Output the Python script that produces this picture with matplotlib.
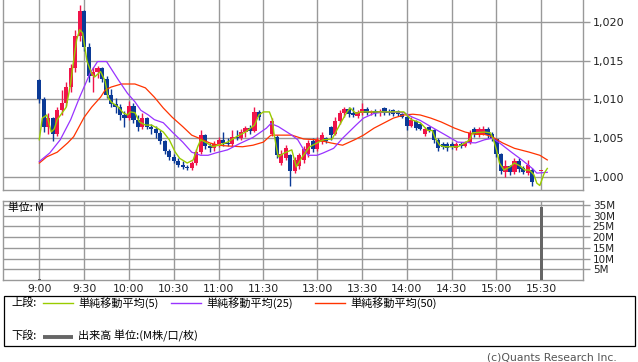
import numpy as np
import matplotlib
matplotlib.use("Agg")
import matplotlib.pyplot as plt
from matplotlib.patches import Rectangle

plt.rcParams['font.family'] = ['DejaVu Sans', 'Noto Sans CJK JP']

# 時間軸: 9:00 からの分 (昼休みは 6 分の隙間に圧縮)
tick_pos = [0, 30, 60, 90, 120, 150, 186, 216, 246, 276, 306, 336]
tick_labels = ['9:00', '9:30', '10:00', '10:30', '11:00', '11:30',
               '13:00', '13:30', '14:00', '14:30', '15:00', '15:30']

# 3分足 (前場 9:00-11:27, 後場 12:30-15:24, 引け 15:30)
bar_pos = np.concatenate([np.arange(0, 150, 3), np.arange(156, 333, 3), [336]])

opens = [1012.5, 1010.0, 1006.5, 1007.6, 1005.6, 1008.6, 1009.6, 1011.6, 1014.0, 1018.2,
         1021.4, 1016.8, 1013.0, 1013.6, 1014.0, 1012.6, 1010.6, 1009.4, 1009.0, 1008.0,
         1007.6, 1009.2, 1007.4, 1006.4, 1007.6, 1006.5, 1006.2, 1005.7, 1004.6, 1003.4,
         1002.6, 1002.1, 1001.6, 1001.3, 1001.1, 1001.8, 1003.2, 1005.4, 1004.0, 1003.7,
         1004.3, 1004.8, 1004.4, 1004.2, 1005.2, 1005.0, 1005.8, 1006.3, 1005.9, 1008.4,
         1005.5, 1005.2, 1001.8, 1002.4, 1002.8, 1000.8, 1001.4, 1002.2, 1003.0, 1004.6,
         1003.6, 1004.5, 1005.0, 1006.4, 1005.6, 1007.2, 1008.2, 1008.8, 1008.3, 1007.9,
         1008.2, 1008.8, 1008.3, 1008.5, 1008.2, 1008.9, 1008.4, 1008.6, 1008.5, 1008.1,
         1007.8, 1006.6, 1007.2, 1006.8, 1005.6, 1006.4, 1006.0, 1004.8, 1004.2, 1004.3,
         1004.2, 1003.7, 1004.3, 1004.0, 1004.5, 1006.2, 1005.5, 1005.6, 1006.2, 1005.6,
         1004.9, 1003.0, 1000.6, 1001.4, 1000.6, 1002.0, 1001.2, 1000.5, 1000.9, 1000.8]
highs = [1012.7, 1010.3, 1008.3, 1007.8, 1009.0, 1011.2, 1012.3, 1014.6, 1019.0, 1022.2,
         1021.6, 1017.3, 1014.2, 1014.3, 1014.2, 1013.0, 1011.4, 1010.2, 1009.4, 1008.5,
         1009.8, 1009.5, 1008.0, 1008.3, 1007.8, 1006.9, 1006.6, 1006.0, 1004.8, 1003.6,
         1003.0, 1002.5, 1002.0, 1001.6, 1002.0, 1003.6, 1006.0, 1005.6, 1004.4, 1004.6,
         1005.2, 1005.8, 1005.0, 1006.0, 1006.0, 1006.2, 1006.6, 1006.7, 1009.0, 1008.6,
         1007.6, 1005.4, 1003.5, 1004.1, 1003.0, 1002.6, 1003.1, 1004.0, 1004.8, 1005.0,
         1005.2, 1005.8, 1005.2, 1006.6, 1007.7, 1008.6, 1009.0, 1009.0, 1009.0, 1008.6,
         1009.6, 1009.0, 1008.7, 1008.8, 1008.8, 1009.0, 1008.8, 1008.8, 1008.7, 1008.3,
         1008.0, 1007.8, 1007.4, 1007.0, 1006.5, 1006.6, 1006.2, 1005.0, 1004.5, 1004.5,
         1004.5, 1004.5, 1004.5, 1004.7, 1006.0, 1006.4, 1006.5, 1006.6, 1006.4, 1005.8,
         1005.0, 1003.1, 1002.2, 1001.6, 1002.4, 1002.4, 1001.4, 1002.2, 1001.2, 1000.8]
lows = [1009.5, 1005.8, 1005.5, 1004.7, 1005.3, 1008.0, 1009.2, 1011.0, 1013.5, 1017.6,
        1016.2, 1012.3, 1011.0, 1012.8, 1012.3, 1010.2, 1009.0, 1008.3, 1007.4, 1006.4,
        1007.4, 1007.0, 1005.9, 1006.2, 1006.2, 1005.5, 1005.0, 1004.2, 1003.0, 1002.2,
        1001.8, 1001.3, 1001.0, 1000.9, 1000.9, 1001.5, 1003.0, 1003.6, 1003.2, 1003.4,
        1003.9, 1004.0, 1004.0, 1004.0, 1004.8, 1004.8, 1005.2, 1005.6, 1005.8, 1007.3,
        1005.3, 1002.4, 1001.5, 1002.2, 998.8, 1000.5, 1001.0, 1001.8, 1002.6, 1003.2,
        1003.4, 1004.3, 1004.4, 1004.8, 1005.4, 1006.9, 1007.8, 1007.8, 1007.7, 1007.6,
        1008.0, 1008.0, 1008.0, 1007.9, 1007.9, 1008.0, 1008.0, 1007.9, 1007.9, 1007.6,
        1006.0, 1006.4, 1006.0, 1006.0, 1005.3, 1005.8, 1004.4, 1003.4, 1003.6, 1003.4,
        1003.6, 1003.5, 1003.8, 1003.9, 1004.3, 1005.2, 1005.2, 1005.4, 1005.0, 1004.6,
        1002.6, 1000.4, 1000.0, 1000.2, 1000.4, 1000.6, 1000.4, 1000.3, 998.9, 1000.8]
closes = [1010.0, 1006.5, 1007.6, 1005.6, 1008.6, 1009.6, 1011.6, 1014.0, 1018.2, 1021.4,
          1016.8, 1013.0, 1013.6, 1014.0, 1012.6, 1010.6, 1009.4, 1009.0, 1008.0, 1007.6,
          1009.2, 1007.4, 1006.4, 1007.6, 1006.5, 1006.2, 1005.7, 1004.6, 1003.4, 1002.6,
          1002.1, 1001.6, 1001.3, 1001.1, 1001.8, 1003.2, 1005.4, 1004.0, 1003.7, 1004.3,
          1004.8, 1004.4, 1004.2, 1005.2, 1005.0, 1005.8, 1006.3, 1005.9, 1008.4, 1007.8,
          1007.2, 1002.8, 1003.0, 1003.7, 1000.8, 1002.2, 1002.8, 1003.6, 1004.4, 1003.6,
          1004.8, 1005.4, 1004.6, 1005.4, 1007.2, 1008.2, 1008.8, 1008.1, 1008.0, 1008.4,
          1008.8, 1008.3, 1008.5, 1008.2, 1008.5, 1008.3, 1008.2, 1008.1, 1008.1, 1007.8,
          1006.6, 1007.4, 1006.3, 1006.2, 1006.2, 1006.0, 1004.8, 1003.8, 1003.9, 1003.8,
          1003.9, 1004.3, 1004.0, 1004.5, 1005.7, 1005.5, 1006.2, 1006.2, 1005.4, 1004.9,
          1003.0, 1000.8, 1001.4, 1000.6, 1002.0, 1001.0, 1000.7, 1001.6, 999.4, 1000.8]

# 単純移動平均 (チャートから読み取り)
ma5_pos = [0, 2, 5, 8, 10, 12, 15, 18, 21, 23, 25, 27, 29, 30, 32, 35, 37, 41, 44, 46,
           48, 53, 56, 59, 61, 64, 67, 71, 75, 79, 83, 87, 91, 94, 99, 103, 106, 108, 112, 116,
           120, 126, 132, 138, 144, 147, 150, 154, 156, 157, 159, 160, 164, 169, 172, 176, 181, 186, 190, 196,
           199, 203, 206, 208, 212, 215, 244, 246, 249, 255, 260, 263, 265, 268, 271, 280, 285, 288, 290, 298,
           302, 304, 306, 308, 311, 315, 318, 322, 325, 328, 331, 333, 335, 338, 340]
ma5 = [1004.8, 1007.6, 1008.0, 1005.8, 1006.2, 1007.4, 1008.2, 1009.0, 1012.1, 1015.1,
       1017.7, 1019.0, 1018.6, 1017.3, 1014.9, 1013.4, 1012.9, 1013.6, 1012.4, 1010.3,
       1009.7, 1009.0, 1008.3, 1008.0, 1008.4, 1008.3, 1007.1, 1006.7, 1006.7, 1006.3,
       1005.8, 1004.8, 1003.2, 1002.4, 1001.8, 1002.2, 1003.9, 1004.8, 1004.4, 1003.9,
       1004.1, 1004.5, 1005.2, 1005.8, 1006.7, 1008.0, 1008.4, 1008.4, 1007.4, 1005.7,
       1003.5, 1002.6, 1003.1, 1003.5, 1001.3, 1002.6, 1003.9, 1004.4, 1004.8, 1004.9,
       1006.0, 1007.4, 1008.4, 1008.9, 1008.2, 1008.4, 1008.4, 1008.0, 1007.4, 1007.0,
       1006.0, 1006.0, 1005.0, 1004.1, 1003.9, 1003.9, 1004.4, 1004.8, 1005.7, 1005.8,
       1005.7, 1004.8, 1003.5, 1001.8, 1000.9, 1001.3, 1001.8, 1001.4, 1000.9, 1000.9,
       1000.3, 999.2, 998.9, 1000.5, 1001.1]

ma25_pos = [0, 7, 14, 21, 27, 34, 39, 45, 48, 53, 59, 64, 68, 73, 77, 83, 89, 96, 102, 108,
            113, 118, 126, 134, 143, 152, 155, 160, 169, 173, 177, 180, 186, 190, 197, 203, 212, 217, 224, 231,
            244, 250, 255, 262, 272, 280, 292, 298, 303, 308, 316, 323, 330, 333, 340]
ma25 = [1002.0, 1003.1, 1004.8, 1007.4, 1010.3, 1013.4, 1014.9, 1014.9, 1014.0, 1012.5,
        1010.8, 1009.7, 1008.6, 1008.0, 1007.4, 1007.0, 1005.8, 1004.5, 1003.2, 1002.8,
        1002.8, 1003.1, 1003.5, 1004.3, 1005.1, 1006.3, 1006.9, 1006.5, 1005.4, 1004.8,
        1003.5, 1002.8, 1002.8, 1003.1, 1003.7, 1005.0, 1006.7, 1007.6, 1008.2, 1008.4,
        1008.3, 1007.7, 1007.3, 1006.5, 1005.4, 1004.5, 1004.4, 1004.8, 1005.0, 1004.4,
        1003.2, 1002.2, 1001.1, 1000.5, 1000.6]

ma50_pos = [0, 5, 12, 19, 23, 30, 35, 41, 44, 48, 55, 64, 71, 77, 83, 89, 96, 102, 107, 114,
            120, 126, 136, 143, 150, 155, 169, 177, 186, 195, 203, 211, 217, 224, 231, 237, 244, 250, 255, 262,
            269, 278, 285, 292, 298, 303, 310, 318, 328, 335, 340]
ma50 = [1001.8, 1002.6, 1003.2, 1004.4, 1005.2, 1007.7, 1009.0, 1010.3, 1011.2, 1011.6,
        1012.0, 1012.0, 1011.5, 1010.3, 1008.9, 1007.7, 1006.5, 1005.4, 1005.0, 1004.4,
        1004.1, 1004.0, 1003.9, 1004.1, 1004.5, 1005.4, 1005.4, 1004.9, 1004.8, 1004.4,
        1004.1, 1004.8, 1005.4, 1006.3, 1007.0, 1007.6, 1008.0, 1008.1, 1008.0, 1007.6,
        1007.1, 1006.3, 1005.8, 1005.5, 1005.5, 1005.2, 1004.4, 1003.7, 1003.2, 1002.8,
        1002.2]

# 出来高 (M)
vol_pos = [0, 336]
vol = [0.4, 34.0]

UP = '#F0144A'
DOWN = '#0B3A96'
GRID = '#999999'

W, H = 638, 362
fig = plt.figure(figsize=(W / 100, H / 100), dpi=100)


def box(l, t, r, b):
    return [l / W, 1 - b / H, (r - l) / W, (b - t) / H]


ax1 = fig.add_axes(box(3, 0, 583, 190))
ax2 = fig.add_axes(box(3, 201, 583, 280))

for ax in (ax1, ax2):
    ax.set_xlim(-24.3, 363.9)
    ax.set_xticks(tick_pos)
    ax.grid(True, color=GRID, lw=1.0)
    ax.set_axisbelow(True)
    for s in ax.spines.values():
        s.set_color(GRID)
        s.set_linewidth(1.0)
    ax.yaxis.tick_right()
    ax.tick_params(axis='y', length=5, color=GRID, width=1.0, pad=2,
                   labelcolor='#222222')
    ax.tick_params(axis='x', length=0)
ax1.spines['top'].set_visible(False)

# ローソク足
o = np.array(opens)
c = np.array(closes)
up = c >= o
colors = np.where(up, UP, DOWN)
body_low = np.minimum(o, c)
body_h = np.maximum(np.abs(c - o), 0.15)
ax1.vlines(bar_pos, lows, highs, colors=colors, lw=1.0, zorder=2)
ax1.bar(bar_pos, body_h, bottom=body_low, width=2.8, color=colors, lw=0, zorder=3)

ax1.plot(ma50_pos, ma50, color='#FF3300', lw=0.9, zorder=4)
ax1.plot(ma25_pos, ma25, color='#9933FF', lw=0.9, zorder=4)
ax1.plot(ma5_pos, ma5, color='#99CC00', lw=1.0, zorder=5)

ax1.set_ylim(998.32, 1022.84)
ax1.set_yticks([1000, 1005, 1010, 1015, 1020])
ax1.set_yticklabels(['{:,}'.format(v) for v in [1000, 1005, 1010, 1015, 1020]], fontsize=8)
ax1.set_xticklabels([])

# 出来高
ax2.bar(vol_pos, vol, width=2.2, color='#666666', lw=0, zorder=3)
ax2.set_ylim(0, 36.8)
ax2.set_yticks([5, 10, 15, 20, 25, 30, 35])
ax2.set_yticklabels(['%dM' % v for v in [5, 10, 15, 20, 25, 30, 35]], fontsize=7.5)
ax2.set_xticklabels(tick_labels, fontsize=7.8, color='#222222')
ax2.tick_params(axis='x', pad=3)
ax2.text(0.008, 0.92, '単位: M', transform=ax2.transAxes, fontsize=7.8,
         va='center', ha='left', family=['Noto Sans CJK JP', 'DejaVu Sans'])

# 凡例
lg = fig.add_axes([0, 0, 1, 1])
lg.set_xlim(0, W)
lg.set_ylim(H, 0)
lg.axis('off')
lg.add_patch(Rectangle((3.5, 295.5), 631, 50.5, fill=False, ec='black', lw=0.9))
jp = ['Noto Sans CJK JP', 'DejaVu Sans']
lg.text(11, 303, '上段:', fontsize=8, va='center', family=jp)
lg.text(11, 336, '下段:', fontsize=8, va='center', family=jp)
for x0, col, label in [(43, '#99CC00', '単純移動平均(5)'),
                       (171, '#9933FF', '単純移動平均(25)'),
                       (315, '#FF3300', '単純移動平均(50)')]:
    lg.plot([x0, x0 + 30], [303, 303], color=col, lw=1.0)
    lg.text(x0 + 35, 303, label, fontsize=8, va='center', family=jp)
lg.plot([43, 73], [336.5, 336.5], color='#666666', lw=2.8, solid_capstyle='butt')
lg.text(78, 336, '出来高 単位:(M株/口/枚)', fontsize=8, va='center', family=jp)
lg.text(617, 357, '(c)Quants Research Inc.', fontsize=7.8, va='center', ha='right',
        color='#555555')

fig.savefig('out.png', dpi=100)
